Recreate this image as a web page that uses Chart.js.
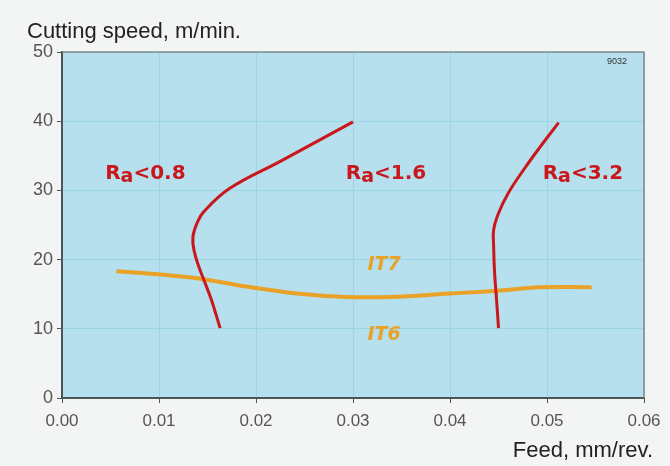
<!DOCTYPE html>
<html>
<head>
<meta charset="utf-8">
<script src="https://cdn.jsdelivr.net/npm/chart.js@4"></script>
<style>
  html, body { margin: 0; padding: 0; background: #f2f5f3; }
  #wrap { width: 670px; height: 466px; position: relative; }
</style>
</head>
<body>
<div id="wrap"><canvas id="c" width="670" height="466"></canvas></div>
<script>
// ---- data ----
const xTicks = [0, 0.01, 0.02, 0.03, 0.04, 0.05, 0.06];
const yTicks = [0, 10, 20, 30, 40, 50];

const ra08X = [0.0300, 0.0225, 0.0173, 0.0146, 0.0139, 0.0135, 0.0136, 0.0141, 0.0147, 0.0154, 0.0163];
const ra08Y = [39.9, 34.2, 30.3, 26.9, 25.2, 23.3, 21.4, 19.0, 16.8, 14.2, 10.1];

const ra32X = [0.0512, 0.0493, 0.0477, 0.0460, 0.0450, 0.0445, 0.0445, 0.0446, 0.0448, 0.0450];
const ra32Y = [39.8, 36.3, 33.2, 29.6, 26.7, 24.3, 21.9, 18.0, 14.2, 10.1];

const itX = [0.0056, 0.0105, 0.0149, 0.0190, 0.0242, 0.0293, 0.0338, 0.0400, 0.0448, 0.0493, 0.0546];
const itY = [18.3, 17.8, 17.1, 16.1, 15.1, 14.6, 14.6, 15.1, 15.5, 16.0, 16.0];

const raLabels = [
  { sub: 'a', pre: 'R', post: '<0.8', x: 0.0086, y: 32.7 },
  { sub: 'a', pre: 'R', post: '<1.6', x: 0.0334, y: 32.7 },
  { sub: 'a', pre: 'R', post: '<3.2', x: 0.0537, y: 32.7 }
];
const itLabels = [
  { text: 'IT7', x: 0.0332, y: 19.2 },
  { text: 'IT6', x: 0.0332, y: 9.1 }
];

const yTitle = 'Cutting speed, m/min.';
const xTitle = 'Feed, mm/rev.';
const code = '9032';

function pts(xs, ys) { return xs.map((x, i) => ({ x: x, y: ys[i] })); }

const RED = '#c9171c';
const ORANGE = '#e9a227';
const FONT = '"Liberation Sans", Arial, sans-serif';
const BOLDFONT = '"DejaVu Sans", "Liberation Sans", sans-serif';

const bgPlugin = {
  id: 'bg',
  beforeDraw(chart) {
    const ctx = chart.ctx, a = chart.chartArea;
    ctx.save();
    ctx.fillStyle = '#f2f5f3';
    ctx.fillRect(0, 0, chart.width, chart.height);
    ctx.fillStyle = '#b6e0ed';
    ctx.fillRect(a.left, a.top, a.right - a.left, a.bottom - a.top);
    ctx.restore();
  },
  afterDraw(chart) {
    const ctx = chart.ctx, a = chart.chartArea;
    const xs = chart.scales.x, ys = chart.scales.y;
    ctx.save();
    // top & right frame
    ctx.strokeStyle = '#7d8a8c';
    ctx.lineWidth = 1.5;
    ctx.beginPath();
    ctx.moveTo(a.left, a.top); ctx.lineTo(a.right, a.top); ctx.lineTo(a.right, a.bottom);
    ctx.stroke();
    // titles
    ctx.fillStyle = '#222';
    ctx.font = '22px ' + FONT;
    ctx.textBaseline = 'middle';
    ctx.textAlign = 'left';
    ctx.fillText(yTitle, 27, 32);
    ctx.textAlign = 'right';
    ctx.fillText(xTitle, 653, 451);
    // small code
    ctx.font = '9px ' + FONT;
    ctx.fillStyle = '#333';
    ctx.fillText(code, a.right - 17, a.top + 10);
    // Ra labels
    ctx.fillStyle = RED;
    ctx.textBaseline = 'alphabetic';
    ctx.textAlign = 'left';
    raLabels.forEach(l => {
      const big = 'bold 20px ' + BOLDFONT;
      const small = 'bold 19px ' + BOLDFONT;
      ctx.font = big; const w1 = ctx.measureText(l.pre).width;
      const w3 = ctx.measureText(l.post).width;
      ctx.font = small; const w2 = ctx.measureText(l.sub).width;
      const total = w1 + w2 + w3;
      let px = xs.getPixelForValue(l.x) - total / 2;
      const py = ys.getPixelForValue(l.y) + 7;
      ctx.font = big; ctx.fillText(l.pre, px, py); px += w1;
      ctx.font = small; ctx.fillText(l.sub, px, py + 3); px += w2;
      ctx.font = big; ctx.fillText(l.post, px, py);
    });
    // IT labels
    ctx.fillStyle = ORANGE;
    ctx.textAlign = 'center';
    ctx.textBaseline = 'middle';
    ctx.font = 'italic bold 19px ' + BOLDFONT;
    itLabels.forEach(l => {
      ctx.fillText(l.text, xs.getPixelForValue(l.x), ys.getPixelForValue(l.y));
    });
    ctx.restore();
  }
};

new Chart(document.getElementById('c'), {
  type: 'scatter',
  data: {
    datasets: [
      { label: 'IT', data: pts(itX, itY), showLine: true, borderColor: ORANGE, borderWidth: 4, pointRadius: 0, tension: 0.4, order: 2 },
      { label: 'Ra<0.8', data: pts(ra08X, ra08Y), showLine: true, borderColor: RED, borderWidth: 3, pointRadius: 0, tension: 0.4, order: 1 },
      { label: 'Ra<3.2', data: pts(ra32X, ra32Y), showLine: true, borderColor: RED, borderWidth: 3, pointRadius: 0, tension: 0.4, order: 1 }
    ]
  },
  options: {
    responsive: false,
    animation: false,
    layout: { padding: { top: 52, right: 26, left: 0, bottom: 0 } },
    plugins: { legend: { display: false }, tooltip: { enabled: false } },
    scales: {
      x: {
        type: 'linear', min: 0, max: 0.06,
        afterBuildTicks(s) { s.ticks = xTicks.map(v => ({ value: v })); },
        afterFit(s) { s.height = 68; },
        ticks: { callback: v => v.toFixed(2), color: '#555', font: { family: FONT, size: 17 }, padding: 8, maxRotation: 0, autoSkip: false },
        grid: { color: '#9cd5e7', lineWidth: 1, tickLength: 5, tickColor: '#555' },
        border: { display: true, color: '#4a5556', width: 2 }
      },
      y: {
        type: 'linear', min: 0, max: 50,
        afterBuildTicks(s) { s.ticks = yTicks.map(v => ({ value: v })); },
        afterFit(s) { s.width = 62; },
        ticks: { color: '#555', font: { family: FONT, size: 18 }, padding: 4 },
        grid: { color: '#9cd5e7', lineWidth: 1, tickLength: 5, tickColor: '#555' },
        border: { display: true, color: '#4a5556', width: 2 }
      }
    }
  },
  plugins: [bgPlugin]
});
</script>
</body>
</html>
